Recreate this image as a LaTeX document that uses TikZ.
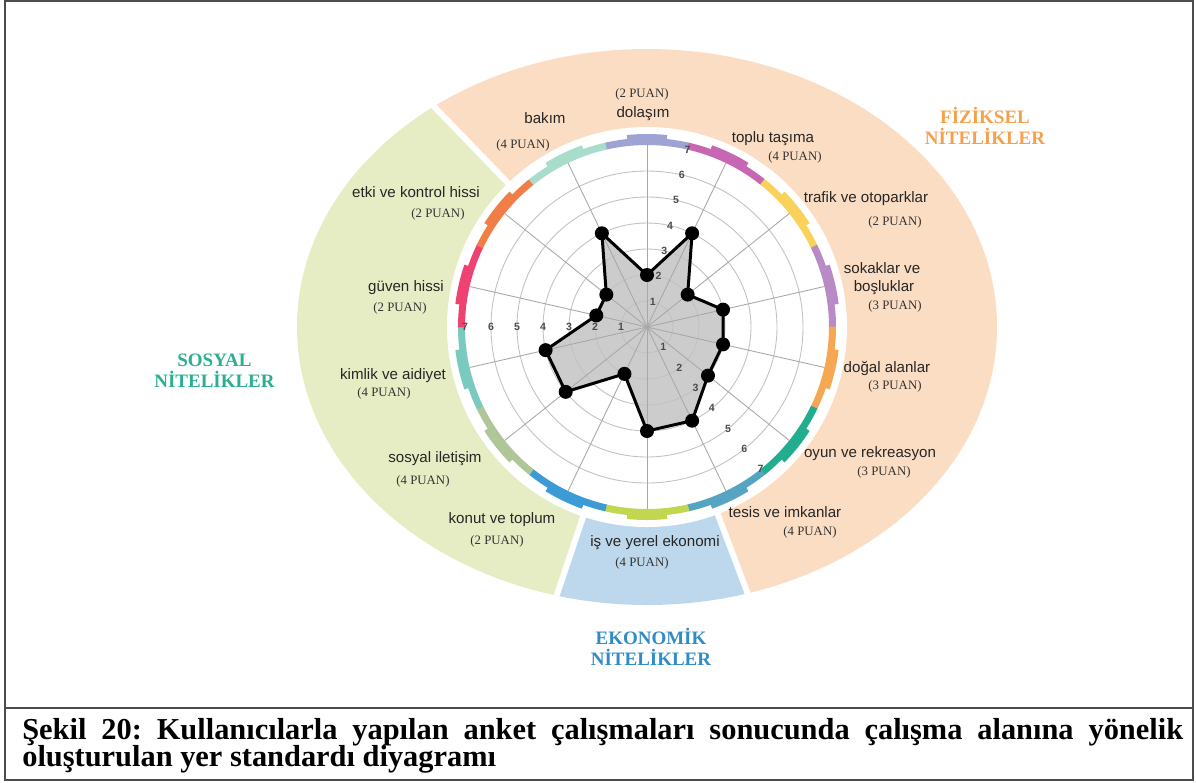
\documentclass[tikz,border=0pt]{standalone}
\usepackage{fontspec}
\setmainfont{Liberation Serif}
\newfontfamily\labelsans{Liberation Sans}
\frenchspacing

\definecolor{fizpeach}{HTML}{FBDDC4}
\definecolor{sosgreen}{HTML}{E6EDC5}
\definecolor{ekoblue}{HTML}{BDD8EC}
\definecolor{fiztext}{HTML}{F4A04C}
\definecolor{sostext}{HTML}{2BAE91}
\definecolor{ekotext}{HTML}{2F8CC6}
\definecolor{segdol}{HTML}{9FA3D4}
\definecolor{segtop}{HTML}{C766B3}
\definecolor{segtra}{HTML}{F8D25A}
\definecolor{segsok}{HTML}{B88BC6}
\definecolor{segdog}{HTML}{F5A851}
\definecolor{segoyu}{HTML}{22AE8E}
\definecolor{segtes}{HTML}{55A5C2}
\definecolor{segis}{HTML}{C3D650}
\definecolor{segkon}{HTML}{3C9BD6}
\definecolor{segsos}{HTML}{AFC698}
\definecolor{segkim}{HTML}{7BCABF}
\definecolor{seggue}{HTML}{EE4371}
\definecolor{segetk}{HTML}{F07E46}
\definecolor{segbak}{HTML}{A8DDCB}

\begin{document}
\begin{tikzpicture}[x=0.02cm, y=0.02cm,
    item/.style={font=\labelsans\fontsize{8.6}{10.2}\selectfont, text=black!85, inner sep=0pt, anchor=base},
    puan/.style={font=\fontsize{7.3}{8.5}\selectfont, text=black!80, inner sep=0pt, anchor=base},
    group/.style={font=\bfseries\fontsize{10.8}{11.9}\selectfont, inner sep=0pt, align=center},
    tick/.style={font=\labelsans\bfseries\fontsize{6}{7}\selectfont, text=black!70, inner sep=0pt},
    grid/.style={draw=black!24, line width=0.5pt},
    spoke/.style={draw=black!34, line width=0.5pt},
    gap/.style={draw=white, line width=3.4pt},
    caption/.style={font=\bfseries\fontsize{17.3}{15.9}\selectfont, inner sep=0pt, anchor=base west}]

    \useasboundingbox (-647,-455) rectangle (549,327);

    % Outer groups
    \begin{scope}
        \clip (0,0) -- (134:600) arc[start angle=134, end angle=-69.3, radius=600] -- cycle;
        \fill[fizpeach] (0,0) ellipse [x radius=350, y radius=278];
    \end{scope}
    \begin{scope}
        \clip (0,0) -- (-69.3:600) arc[start angle=-69.3, end angle=-108.6, radius=600] -- cycle;
        \fill[ekoblue] (0,0) ellipse [x radius=350, y radius=278];
    \end{scope}
    \begin{scope}
        \clip (0,0) -- (-108.6:600) arc[start angle=-108.6, end angle=-226, radius=600] -- cycle;
        \fill[sosgreen] (0,0) ellipse [x radius=350, y radius=278];
    \end{scope}
    \draw[gap] (0,0) -- (134:360);
    \draw[gap] (0,0) -- (-69.3:360);
    \draw[gap] (0,0) -- (-108.6:360);
    \fill[white] (0,0) circle [radius=200];

    % Colour ring
    \foreach \c [count=\i from 0] in {segdol, segtop, segtra, segsok, segdog, segoyu, segtes, segis, segkon, segsos, segkim, seggue, segetk, segbak} {
        \pgfmathsetmacro{\ang}{90-\i*360/14}
        \fill[\c] ({\ang+12.95}:182) arc[start angle=\ang+12.95, end angle=\ang-12.95, radius=182]
            -- ({\ang-12.95}:189) arc[start angle=\ang-12.95, end angle=\ang+12.95, radius=189] -- cycle;
        \fill[\c] ({\ang+6}:185) arc[start angle=\ang+6, end angle=\ang-6, radius=185]
            -- ({\ang-6}:193) arc[start angle=\ang-6, end angle=\ang+6, radius=193] -- cycle;
    }

    % Radar
    \foreach \v [count=\i from 0] in {2,4,2,3,3,3,4,4,2,4,4,2,2,4}
        \coordinate (p\i) at ({90-\i*360/14}:{\v*26});
    \fill[black!20] (p0) \foreach \i in {1,...,13} {-- (p\i)} -- cycle;
    \foreach \k in {1,...,6}
        \draw[grid] (0,0) circle [radius=\k*26];
    \foreach \i in {0,...,13}
        \draw[spoke] (0,0) -- ({90-\i*360/14}:182);

    % Scale labels
    \foreach \k in {1,...,7} {
        \node (tick_t\k) [tick] at (77.14:{\k*26}) {\k};
        \node (tick_l\k) [tick] at (180:{\k*26}) {\k};
        \node (tick_r\k) [tick] at (-51.43:{\k*26}) {\k};
    }

    % Profile
    \draw[black, line width=1.7pt, line join=round] (p0) \foreach \i in {1,...,13} {-- (p\i)} -- cycle;
    \foreach \i in {0,...,13}
        \fill (p\i) circle [radius=7];

    % Physical items
    \node (dolasim) [item] at (-4,210) {dolaşım};
    \node (dolasim_p) [puan] at (-5,230) {(2 PUAN)};
    \node (toplu) [item] at (126,185) {toplu taşıma};
    \node (toplu_p) [puan] at (148,167) {(4 PUAN)};
    \node (trafik) [item] at (219,125) {trafik ve otoparklar};
    \node (trafik_p) [puan] at (248,102) {(2 PUAN)};
    \node (sokak) [item] at (235,54) {sokaklar ve};
    \node (sokak_b) [item] at (237,36) {boşluklar};
    \node (sokak_p) [puan] at (248,18) {(3 PUAN)};
    \node (dogal) [item] at (240,-45) {doğal alanlar};
    \node (dogal_p) [puan] at (248,-62) {(3 PUAN)};
    \node (oyun) [item] at (223,-130) {oyun ve rekreasyon};
    \node (oyun_p) [puan] at (237,-148) {(3 PUAN)};
    \node (tesis) [item] at (138,-190) {tesis ve imkanlar};
    \node (tesis_p) [puan] at (163,-208) {(4 PUAN)};
    \node (bakim) [item] at (-102,204) {bakım};
    \node (bakim_p) [puan] at (-124,179) {(4 PUAN)};

    % Economic items
    \node (is) [item] at (8,-219) {iş ve yerel ekonomi};
    \node (is_p) [puan] at (-5,-239) {(4 PUAN)};

    % Social items
    \node (konut) [item] at (-145,-196) {konut ve toplum};
    \node (konut_p) [puan] at (-150,-217) {(2 PUAN)};
    \node (sosyal_i) [item] at (-212,-135) {sosyal iletişim};
    \node (sosyal_p) [puan] at (-224,-157) {(4 PUAN)};
    \node (kimlik) [item] at (-254,-52) {kimlik ve aidiyet};
    \node (kimlik_p) [puan] at (-263,-69) {(4 PUAN)};
    \node (guven) [item] at (-241,36) {güven hissi};
    \node (guven_p) [puan] at (-247,16) {(2 PUAN)};
    \node (etki) [item] at (-231,130) {etki ve kontrol hissi};
    \node (etki_p) [puan] at (-209,110) {(2 PUAN)};

    % Group titles
    \node (fiziksel) [group, text=fiztext] at (338,201.5) {FİZİKSEL\\NİTELİKLER};
    \node (sosyal) [group, text=sostext] at (-432.5,-43.7) {SOSYAL\\NİTELİKLER};
    \node (ekonomik) [group, text=ekotext] at (4,-319.5) {EKONOMİK\\NİTELİKLER};

    % Frame and caption
    \draw[black!70, line width=1.1pt] (-642,-453) rectangle (546,326);
    \draw[black!70, line width=1.1pt] (-642,-381) -- (546,-381);
    \node (caption1) [caption] at (-625,-412) {\makebox[23.22cm][s]{Şekil 20: Kullanıcılarla yapılan anket çalışmaları sonucunda çalışma alanına yönelik}};
    \node (caption2) [caption] at ([yshift=-15.9pt]caption1.base west) {oluşturulan yer standardı diyagramı};

\end{tikzpicture}
\end{document}
